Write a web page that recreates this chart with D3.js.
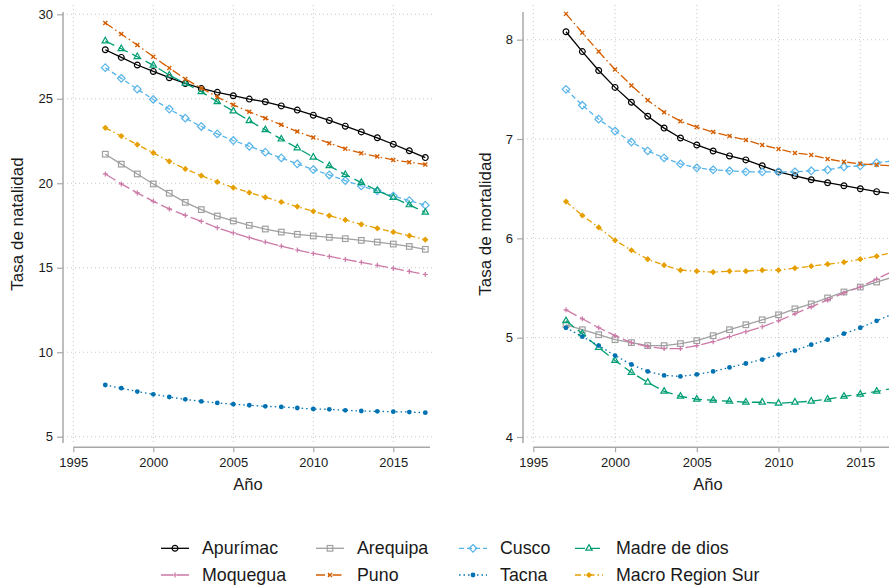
<!DOCTYPE html>
<html>
<head>
<meta charset="utf-8">
<script src="https://cdn.jsdelivr.net/npm/d3@7"></script>
<style>
  html, body { margin: 0; padding: 0; background: #fff; }
  svg text { font-family: "Liberation Sans", Arial, sans-serif; fill: #1a1a1a; }
</style>
</head>
<body>
<svg id="chart" width="889" height="588"></svg>
<script>
// ---- Data -------------------------------------------------------------
const years = [1997, 1998, 1999, 2000, 2001, 2002, 2003, 2004, 2005, 2006, 2007,
               2008, 2009, 2010, 2011, 2012, 2013, 2014, 2015, 2016, 2017];

const regions = ["Apurímac", "Arequipa", "Cusco", "Madre de dios",
                 "Moquegua", "Puno", "Tacna", "Macro Region Sur"];

// Tasa de natalidad (por mil)
const natApurimac   = [27.90, 27.45, 27.00, 26.62, 26.25, 25.91, 25.61, 25.38, 25.18, 24.98, 24.82, 24.58, 24.33, 24.03, 23.72, 23.38, 23.04, 22.69, 22.31, 21.92, 21.52];
const natArequipa   = [21.72, 21.13, 20.55, 19.96, 19.41, 18.87, 18.44, 18.06, 17.77, 17.51, 17.29, 17.11, 16.98, 16.88, 16.80, 16.72, 16.62, 16.52, 16.40, 16.26, 16.09];
const natCusco      = [26.84, 26.21, 25.57, 24.96, 24.39, 23.85, 23.36, 22.92, 22.53, 22.19, 21.84, 21.50, 21.15, 20.81, 20.49, 20.16, 19.84, 19.55, 19.25, 18.97, 18.70];
const natMadreDeDios= [28.42, 27.96, 27.49, 26.98, 26.40, 25.91, 25.42, 24.82, 24.27, 23.70, 23.16, 22.61, 22.09, 21.54, 21.03, 20.51, 20.04, 19.57, 19.15, 18.72, 18.28];
const natMoquegua   = [20.55, 19.96, 19.43, 18.93, 18.48, 18.10, 17.75, 17.37, 17.06, 16.78, 16.52, 16.28, 16.05, 15.85, 15.67, 15.49, 15.32, 15.14, 14.96, 14.78, 14.60];
const natPuno       = [29.49, 28.83, 28.18, 27.49, 26.82, 26.17, 25.63, 25.10, 24.64, 24.23, 23.85, 23.46, 23.06, 22.71, 22.37, 22.04, 21.78, 21.58, 21.38, 21.25, 21.11];
const natTacna      = [8.06, 7.87, 7.67, 7.51, 7.35, 7.21, 7.09, 7.00, 6.92, 6.86, 6.80, 6.76, 6.70, 6.64, 6.62, 6.56, 6.52, 6.50, 6.48, 6.46, 6.42];
const natMacroSur   = [23.28, 22.79, 22.29, 21.80, 21.30, 20.85, 20.45, 20.08, 19.74, 19.45, 19.17, 18.89, 18.62, 18.34, 18.08, 17.83, 17.57, 17.33, 17.11, 16.90, 16.66];

// Tasa de mortalidad (por mil)
const mortApurimac   = [8.08, 7.88, 7.69, 7.52, 7.37, 7.23, 7.11, 7.01, 6.94, 6.88, 6.83, 6.79, 6.73, 6.67, 6.63, 6.59, 6.56, 6.53, 6.50, 6.47, 6.45];
const mortArequipa   = [5.13, 5.08, 5.03, 4.98, 4.95, 4.92, 4.92, 4.94, 4.97, 5.02, 5.08, 5.13, 5.18, 5.23, 5.29, 5.34, 5.40, 5.46, 5.51, 5.56, 5.61];
const mortCusco      = [7.50, 7.34, 7.20, 7.08, 6.97, 6.88, 6.81, 6.75, 6.71, 6.69, 6.68, 6.67, 6.67, 6.67, 6.67, 6.68, 6.69, 6.72, 6.73, 6.76, 6.78];
const mortMadreDeDios= [5.17, 5.04, 4.90, 4.77, 4.65, 4.55, 4.46, 4.41, 4.38, 4.37, 4.36, 4.35, 4.35, 4.34, 4.35, 4.36, 4.38, 4.41, 4.43, 4.46, 4.49];
const mortMoquegua   = [5.28, 5.19, 5.10, 5.02, 4.95, 4.91, 4.89, 4.89, 4.92, 4.96, 5.01, 5.06, 5.11, 5.17, 5.24, 5.31, 5.38, 5.45, 5.51, 5.59, 5.67];
const mortPuno       = [8.26, 8.07, 7.88, 7.70, 7.54, 7.39, 7.27, 7.18, 7.12, 7.07, 7.03, 6.99, 6.94, 6.90, 6.86, 6.84, 6.80, 6.77, 6.75, 6.74, 6.73];
const mortTacna      = [5.10, 5.01, 4.92, 4.82, 4.73, 4.66, 4.62, 4.61, 4.63, 4.66, 4.70, 4.74, 4.78, 4.83, 4.87, 4.93, 4.98, 5.04, 5.10, 5.17, 5.24];
const mortMacroSur   = [6.37, 6.23, 6.11, 5.98, 5.88, 5.79, 5.73, 5.68, 5.67, 5.66, 5.67, 5.67, 5.68, 5.68, 5.70, 5.72, 5.74, 5.76, 5.79, 5.82, 5.86];

// Axis ticks
const xTicks = [1995, 2000, 2005, 2010, 2015];
const natTicks = [5, 10, 15, 20, 25, 30];
const mortTicks = [4, 5, 6, 7, 8];

// ---- Styling per region ----------------------------------------------
const styles = [
  { color: "#000000", dash: null,          marker: "circle" },
  { color: "#a0a0a0", dash: null,          marker: "square" },
  { color: "#56b4e9", dash: "5,3",         marker: "diamond" },
  { color: "#009e73", dash: "10,5",        marker: "triangle" },
  { color: "#cc79a7", dash: "12,4",        marker: "plus" },
  { color: "#d55e00", dash: "9,3,1.5,3",   marker: "x" },
  { color: "#0072b2", dash: "1.5,3",       marker: "dot" },
  { color: "#e69f00", dash: "6,3,1.5,3",   marker: "filledDiamond" }
];

const natSeries  = [natApurimac, natArequipa, natCusco, natMadreDeDios, natMoquegua, natPuno, natTacna, natMacroSur];
const mortSeries = [mortApurimac, mortArequipa, mortCusco, mortMadreDeDios, mortMoquegua, mortPuno, mortTacna, mortMacroSur];

const toPoints = vals => years.map((yr, i) => ({ year: yr, v: vals[i] }));

// ---- Layout ----------------------------------------------------------
const svg = d3.select("#chart");
const plotTop = 5, plotBottom = 443, xAxisY = 447.3;
const gridColor = "#c8c8c8", axisColor = "#a8a8a8";

const panels = [
  { title: "Tasa de natalidad", series: natSeries, yTicks: natTicks,
    x0: 63, x1: 433, xRange: [73.3, 393.3], yDomain: [5, 30], yRange: [436.7, 14.3], titleX: 17.5 },
  { title: "Tasa de mortalidad", series: mortSeries, yTicks: mortTicks,
    x0: 523, x1: 893, xRange: [533.3, 860.3], yDomain: [4, 8], yRange: [437, 39.7], titleX: 485 }
];

// ---- Markers ---------------------------------------------------------
function drawMarker(sel, type, color) {
  const sw = 1.2;
  switch (type) {
    case "circle":
      return sel.append("circle").attr("r", 2.9).attr("fill", "none").attr("stroke", color).attr("stroke-width", sw);
    case "square":
      return sel.append("rect").attr("x", -2.8).attr("y", -2.8).attr("width", 5.6).attr("height", 5.6)
        .attr("fill", "none").attr("stroke", color).attr("stroke-width", sw);
    case "diamond": {
      const s = 3.8;
      return sel.append("path").attr("d", `M0,${-s}L${s},0L0,${s}L${-s},0Z`)
        .attr("fill", "none").attr("stroke", color).attr("stroke-width", sw);
    }
    case "triangle": {
      const s = 3.7;
      return sel.append("path").attr("d", `M0,${-s}L${s * 0.866},${s * 0.5}L${-s * 0.866},${s * 0.5}Z`)
        .attr("fill", "none").attr("stroke", color).attr("stroke-width", sw);
    }
    case "plus": {
      const s = 2.5;
      return sel.append("path").attr("d", `M${-s},0H${s}M0,${-s}V${s}`)
        .attr("fill", "none").attr("stroke", color).attr("stroke-width", sw);
    }
    case "x": {
      const s = 2.0;
      return sel.append("path").attr("d", `M${-s},${-s}L${s},${s}M${-s},${s}L${s},${-s}`)
        .attr("fill", "none").attr("stroke", color).attr("stroke-width", sw + 0.2);
    }
    case "dot":
      return sel.append("circle").attr("r", 2.4).attr("fill", color);
    case "filledDiamond": {
      const s = 3.1;
      return sel.append("path").attr("d", `M0,${-s}L${s},0L0,${s}L${-s},0Z`).attr("fill", color);
    }
  }
}

// ---- Panels ----------------------------------------------------------
panels.forEach(p => {
  const x = d3.scaleLinear().domain([1995, 2015]).range(p.xRange);
  const y = d3.scaleLinear().domain(p.yDomain).range(p.yRange);
  const g = svg.append("g");

  // dotted grid
  const grid = g.append("g").attr("stroke", gridColor).attr("stroke-width", 1).attr("stroke-dasharray", "1,3");
  grid.selectAll("line.h").data(p.yTicks).join("line").attr("class", "h")
    .attr("x1", p.x0).attr("x2", p.x1).attr("y1", d => y(d)).attr("y2", d => y(d));
  grid.selectAll("line.v").data(xTicks).join("line").attr("class", "v")
    .attr("x1", d => x(d)).attr("x2", d => x(d)).attr("y1", plotTop).attr("y2", plotBottom);

  // y axis
  const yAxis = g.append("g").attr("transform", `translate(${p.x0},0)`)
    .call(d3.axisLeft(y).tickValues(p.yTicks).tickFormat(d3.format("d")).tickSize(6).tickPadding(4));
  yAxis.select(".domain").remove();
  yAxis.selectAll(".tick line").attr("stroke", axisColor).attr("stroke-width", 1.2);
  yAxis.selectAll(".tick text").attr("font-size", 13).attr("fill", "#1a1a1a");
  g.append("line").attr("x1", p.x0).attr("x2", p.x0).attr("y1", 12).attr("y2", plotBottom)
    .attr("stroke", axisColor).attr("stroke-width", 1.5);

  // x axis
  const xAxis = g.append("g").attr("transform", `translate(0,${xAxisY})`)
    .call(d3.axisBottom(x).tickValues(xTicks).tickFormat(d3.format("d")).tickSize(5).tickPadding(5));
  xAxis.select(".domain").remove();
  xAxis.selectAll(".tick line").attr("stroke", axisColor).attr("stroke-width", 1.2);
  xAxis.selectAll(".tick text").attr("font-size", 13).attr("fill", "#1a1a1a");
  g.append("line").attr("x1", x(1995)).attr("x2", p.x1 - 3).attr("y1", xAxisY).attr("y2", xAxisY)
    .attr("stroke", axisColor).attr("stroke-width", 1.5);

  // titles
  g.append("text").attr("x", (p.x0 + p.x1) / 2).attr("y", 484)
    .attr("text-anchor", "middle").attr("dominant-baseline", "central").attr("font-size", 16.5).text("Año");
  g.append("text").attr("transform", `translate(${p.titleX},${(plotTop + plotBottom) / 2}) rotate(-90)`)
    .attr("text-anchor", "middle").attr("dominant-baseline", "central").attr("font-size", 17).text(p.title);

  // series
  const line = d3.line().x(d => x(d.year)).y(d => y(d.v));
  p.series.forEach((vals, i) => {
    const st = styles[i];
    const pts = toPoints(vals);
    const sg = g.append("g");
    sg.append("path").datum(pts).attr("d", line).attr("fill", "none")
      .attr("stroke", st.color).attr("stroke-width", 1.3)
      .attr("stroke-dasharray", st.dash);
    sg.selectAll("g.m").data(pts).join("g").attr("class", "m")
      .attr("transform", d => `translate(${x(d.year)},${y(d.v)})`)
      .each(function () { drawMarker(d3.select(this), st.marker, st.color); });
  });
});

// ---- Legend ----------------------------------------------------------
const legendCols = [161, 316, 459, 575];
const legendRows = [548.3, 575];
const legend = svg.append("g");
regions.forEach((name, i) => {
  const st = styles[i];
  const cx = legendCols[i % 4], cy = legendRows[Math.floor(i / 4)];
  const item = legend.append("g").attr("transform", `translate(${cx},${cy})`);
  item.append("line").attr("x1", 0).attr("x2", 28).attr("y1", 0).attr("y2", 0)
    .attr("stroke", st.color).attr("stroke-width", 1.3).attr("stroke-dasharray", st.dash);
  drawMarker(item.append("g").attr("transform", "translate(14,0)"), st.marker, st.color);
  item.append("text").attr("x", 41).attr("y", 0).attr("dominant-baseline", "central")
    .attr("font-size", 17.8).text(name);
});
</script>
</body>
</html>
